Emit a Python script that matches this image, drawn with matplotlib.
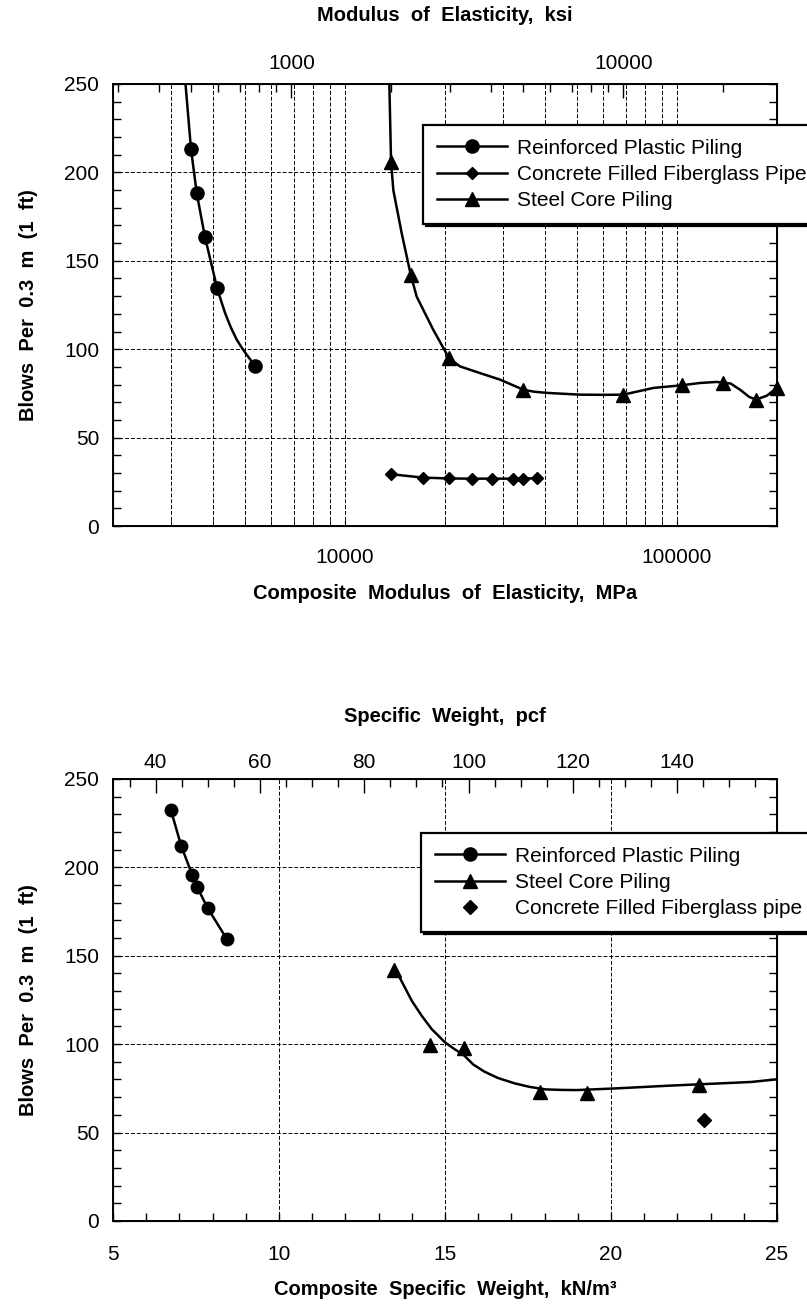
import matplotlib
matplotlib.use("Agg")
import matplotlib.pyplot as plt
from matplotlib.lines import Line2D
from matplotlib.ticker import FixedLocator, MultipleLocator, NullFormatter, FuncFormatter, LogLocator

plt.rcParams["font.family"] = ["Liberation Sans", "DejaVu Sans"]

# unit conversions used for the secondary (top) axes
MPA_PER_KSI = 6.895
KN_PER_PCF = 0.1571

# --- top chart: blows vs composite modulus (MPa) ---
rpp_mod = [3436, 3575, 3784, 4120, 5370]
rpp_mod_blows = [213.2, 188.3, 163.5, 134.4, 90.3]
rpp_mod_curve_x = [3290, 3436, 3575, 3784, 4120, 4240, 4355, 4530, 4722, 4900, 5060, 5370]
rpp_mod_curve_y = [255, 213.2, 188.3, 163.5, 134.4, 127.0, 120.3, 112.3, 105.3, 100.5, 96.8, 90.3]

cffp_mod = [13760, 17140, 20560, 24190, 27660, 31990, 34430, 37800]
cffp_mod_blows = [29.3, 27.4, 26.9, 26.8, 26.8, 26.8, 26.8, 27.1]

scp_mod = [13760, 15780, 20560, 34430, 68870, 103300, 137800, 173000, 200000]
scp_mod_blows = [205.7, 141.9, 95.0, 77.1, 74.3, 79.6, 80.9, 71.5, 78.1]
scp_mod_curve_x = [13580, 13760, 13983, 14820, 15780, 16440, 18450, 20560, 22180,
                   25500, 29300, 34430, 37000, 40500, 51000, 60000, 68870, 84900,
                   103300, 117300, 131700, 145000, 154800, 165000, 173000, 186300, 200000]
scp_mod_curve_y = [255, 205.7, 189.8, 165.4, 141.9, 129.7, 110.9, 95.0, 90.3,
                   86.5, 82.8, 77.1, 76.0, 75.3, 74.3, 74.2, 74.3, 78.1,
                   79.6, 80.9, 81.5, 80.6, 77.1, 73.0, 71.5, 73.7, 78.1]

# --- bottom chart: blows vs composite specific weight (kN/m3) ---
rpp_wt = [6.74, 7.06, 7.39, 7.54, 7.85, 8.42]
rpp_wt_blows = [232.6, 211.8, 195.6, 188.6, 177.0, 159.7]

scp_wt = [13.45, 14.55, 15.57, 17.85, 19.27, 22.65]
scp_wt_blows = [142.0, 99.5, 97.8, 72.9, 72.5, 77.1]
scp_wt_curve_x = [13.45, 13.64, 13.82, 14.0, 14.3, 14.6, 15.0, 15.3, 15.56, 15.85,
                  16.18, 16.6, 17.1, 17.55, 18.03, 18.5, 18.96, 20.2, 21.75,
                  23.3, 24.23, 25.0]
scp_wt_curve_y = [142.0, 137.5, 131.0, 124.5, 116.0, 108.5, 101.0, 97.0, 93.9, 88.5,
                  84.5, 80.8, 77.8, 75.8, 74.4, 74.1, 74.0, 75.0, 76.5,
                  77.8, 78.6, 80.1]

cffp_wt = [22.80]
cffp_wt_blows = [57.0]

grid_kw = dict(color="black", linestyle=(0, (4, 2)), linewidth=0.7)
lw = 1.8

fig = plt.figure(figsize=(8.07, 13.04), dpi=100)
ax1 = fig.add_axes([0.140, 0.5966, 0.8228, 0.339])
ax2 = fig.add_axes([0.140, 0.0637, 0.8228, 0.339])


def style_y(ax):
    ax.set_ylim(0, 250)
    ax.yaxis.set_major_locator(MultipleLocator(50))
    ax.yaxis.set_minor_locator(MultipleLocator(10))
    ax.tick_params(axis="y", which="both", direction="in", left=True, right=True,
                   length=6, width=1, labelsize=15, pad=10)
    ax.yaxis.grid(True, which="major", **grid_kw)
    ax.set_ylabel("Blows  Per  0.3  m  (1  ft)", fontsize=14.5, fontweight="bold",
                  labelpad=19)
    for s in ax.spines.values():
        s.set_linewidth(1.4)


# ---------------- top chart ----------------
ax1.set_xscale("log")
ax1.set_xlim(2000, 200000)
ax1.xaxis.set_major_locator(FixedLocator([10000, 100000]))
ax1.xaxis.set_major_formatter(FuncFormatter(lambda v, p: f"{v:.0f}"))
ax1.xaxis.set_minor_locator(LogLocator(base=10, subs=range(2, 10)))
ax1.xaxis.set_minor_formatter(NullFormatter())
ax1.tick_params(axis="x", which="both", direction="in", length=4, labelsize=15, pad=16)
ax1.xaxis.grid(True, which="both", **grid_kw)
style_y(ax1)
ax1.set_xlabel("Composite  Modulus  of  Elasticity,  MPa", fontsize=14.5,
               fontweight="bold", labelpad=12)

ax1.plot(rpp_mod_curve_x, rpp_mod_curve_y, color="black", lw=lw)
ax1.plot(rpp_mod, rpp_mod_blows, "o", color="black", ms=9.5, clip_on=False)
ax1.plot(scp_mod_curve_x, scp_mod_curve_y, color="black", lw=lw)
ax1.plot(scp_mod, scp_mod_blows, "^", color="black", ms=9.5, clip_on=False)
ax1.plot(cffp_mod, cffp_mod_blows, "-D", color="black", lw=lw, ms=6.5)

tax1 = ax1.twiny()
tax1.set_xscale("log")
tax1.set_xlim(2000 / MPA_PER_KSI, 200000 / MPA_PER_KSI)
tax1.xaxis.set_major_locator(FixedLocator([1000, 10000]))
tax1.xaxis.set_major_formatter(FuncFormatter(lambda v, p: f"{v:.0f}"))
tax1.xaxis.set_minor_locator(LogLocator(base=10, subs=range(2, 10)))
tax1.xaxis.set_minor_formatter(NullFormatter())
tax1.tick_params(axis="x", which="major", direction="in", length=10, width=1,
                 labelsize=15, pad=8)
tax1.tick_params(axis="x", which="minor", direction="in", length=6, width=1)
tax1.set_xlabel("Modulus  of  Elasticity,  ksi", fontsize=14.5, fontweight="bold",
                labelpad=24)

h1 = [Line2D([], [], color="black", lw=lw, marker="o", ms=9.5),
      Line2D([], [], color="black", lw=lw, marker="D", ms=6.5),
      Line2D([], [], color="black", lw=lw, marker="^", ms=9.5)]
l1 = ["Reinforced Plastic Piling", "Concrete Filled Fiberglass Pipe", "Steel Core Piling"]
leg_kw = dict(loc="upper left", bbox_transform=fig.transFigure, fontsize=15,
              frameon=True, fancybox=False, framealpha=1, edgecolor="black",
              shadow={"color": "black", "alpha": 1}, borderpad=0.65,
              handlelength=3.4, handletextpad=0.45, labelspacing=0.35,
              borderaxespad=0)
leg1 = tax1.legend(h1, l1, bbox_to_anchor=(423 / 807, 1 - 125 / 1304), **leg_kw)
leg1.get_frame().set_linewidth(1.6)

# ---------------- bottom chart ----------------
ax2.set_xlim(5, 25)
ax2.xaxis.set_major_locator(MultipleLocator(5))
ax2.xaxis.set_minor_locator(MultipleLocator(1))
ax2.tick_params(axis="x", which="both", direction="in", length=6, width=1,
                labelsize=15, pad=17)
ax2.xaxis.grid(True, which="major", **grid_kw)
style_y(ax2)
ax2.set_xlabel("Composite  Specific  Weight,  kN/m\u00b3", fontsize=14.5,
               fontweight="bold", labelpad=11.5)

ax2.plot(rpp_wt, rpp_wt_blows, "-o", color="black", lw=lw, ms=9)
ax2.plot(scp_wt_curve_x, scp_wt_curve_y, color="black", lw=lw)
ax2.plot(scp_wt, scp_wt_blows, "^", color="black", ms=9.5)
ax2.plot(cffp_wt, cffp_wt_blows, "D", color="black", ms=7)

tax2 = ax2.twiny()
tax2.set_xlim(5 / KN_PER_PCF, 25 / KN_PER_PCF)
tax2.xaxis.set_major_locator(MultipleLocator(20))
tax2.xaxis.set_minor_locator(MultipleLocator(5))
tax2.tick_params(axis="x", which="major", direction="in", length=10, width=1,
                 labelsize=15, pad=5)
tax2.tick_params(axis="x", which="minor", direction="in", length=6, width=1)
tax2.set_xlabel("Specific  Weight,  pcf", fontsize=14.5, fontweight="bold",
                labelpad=22.5)

h2 = [Line2D([], [], color="black", lw=lw, marker="o", ms=9.5),
      Line2D([], [], color="black", lw=lw, marker="^", ms=9.5),
      Line2D([], [], color="black", lw=0, marker="D", ms=7)]
l2 = ["Reinforced Plastic Piling", "Steel Core Piling", "Concrete Filled Fiberglass pipe"]
leg2 = tax2.legend(h2, l2, bbox_to_anchor=(421 / 807, 1 - 833 / 1304), **leg_kw)
leg2.get_frame().set_linewidth(1.6)

fig.savefig("out.png", dpi=100)
